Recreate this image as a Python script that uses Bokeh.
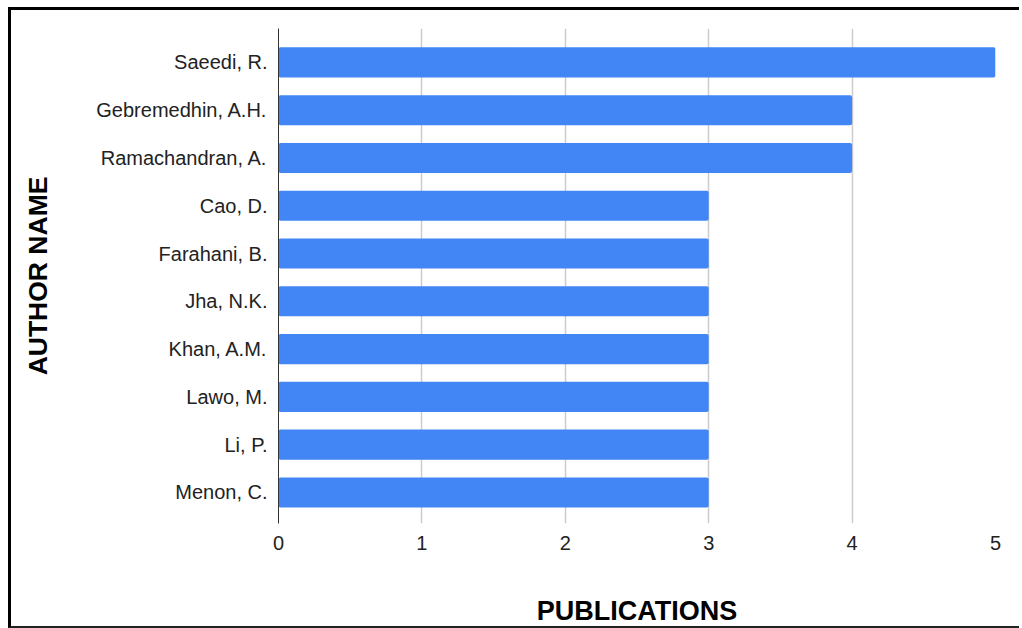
from bokeh.plotting import figure
from bokeh.models import Range1d, FixedTicker, ColumnDataSource
from bokeh.embed import file_html
from bokeh.resources import INLINE

authors = ["Saeedi, R.", "Gebremedhin, A.H.", "Ramachandran, A.", "Cao, D.",
           "Farahani, B.", "Jha, N.K.", "Khan, A.M.", "Lawo, M.", "Li, P.", "Menon, C."]
publications = [5, 4, 4, 3, 3, 3, 3, 3, 3, 3]
x_ticks = [0, 1, 2, 3, 4, 5]

FONT = "Liberation Sans"
positions = list(range(len(authors)))

src = ColumnDataSource(dict(y=positions, right=publications))

p = figure(
    width=1011, height=621,
    x_range=Range1d(0, 5),
    y_range=Range1d(len(authors) - 1 + 0.65, -0.71),
    output_backend="svg", toolbar_location=None,
    min_border_left=267, min_border_right=27,
    min_border_top=18, min_border_bottom=108,
    styles={
        "margin-left": "8px", "margin-top": "7px",
        "border-left": "3px solid #000", "border-top": "3px solid #000",
        "border-bottom": "2px solid #222",
    },
)
p.outline_line_color = None
p.background_fill_color = "white"
p.border_fill_color = "white"

p.hbar(y="y", right="right", left=0, height=0.63, source=src,
       fill_color="#4285f4", line_color=None, border_radius=2)

# grid
p.ygrid.grid_line_color = None
p.xgrid.ticker = FixedTicker(ticks=x_ticks[1:])
p.xgrid.grid_line_color = "#cccccc"
p.xgrid.grid_line_width = 1.5

# x axis
p.xaxis.ticker = FixedTicker(ticks=x_ticks)
p.xaxis.axis_line_color = None
p.xaxis.major_tick_line_color = None
p.xaxis.minor_tick_line_color = None
p.xaxis.major_tick_out = 0
p.xaxis.major_label_standoff = 12
p.xaxis.major_label_text_font = FONT
p.xaxis.major_label_text_font_size = "20px"
p.xaxis.major_label_text_color = "#222222"
p.xaxis.axis_label = "PUBLICATIONS"
p.xaxis.axis_label_standoff = 43
p.xaxis.axis_label_text_font = FONT
p.xaxis.axis_label_text_font_style = "bold"
p.xaxis.axis_label_text_font_size = "27px"
p.xaxis.axis_label_text_color = "#000000"

# y axis with author names
p.yaxis.ticker = FixedTicker(ticks=positions)
p.yaxis.major_label_overrides = {i: a for i, a in enumerate(authors)}
p.yaxis.axis_line_color = "#333333"
p.yaxis.major_tick_line_color = None
p.yaxis.minor_tick_line_color = None
p.yaxis.major_tick_out = 0
p.yaxis.major_label_standoff = 11
p.yaxis.major_label_text_font = FONT
p.yaxis.major_label_text_font_size = "20px"
p.yaxis.major_label_text_color = "#222222"
p.yaxis.axis_label = "AUTHOR NAME"
p.yaxis.axis_label_standoff = 40
p.yaxis.axis_label_text_font = FONT
p.yaxis.axis_label_text_font_style = "bold"
p.yaxis.axis_label_text_font_size = "26.5px"
p.yaxis.axis_label_text_color = "#000000"

open("out.html", "w").write(file_html(p, INLINE))
